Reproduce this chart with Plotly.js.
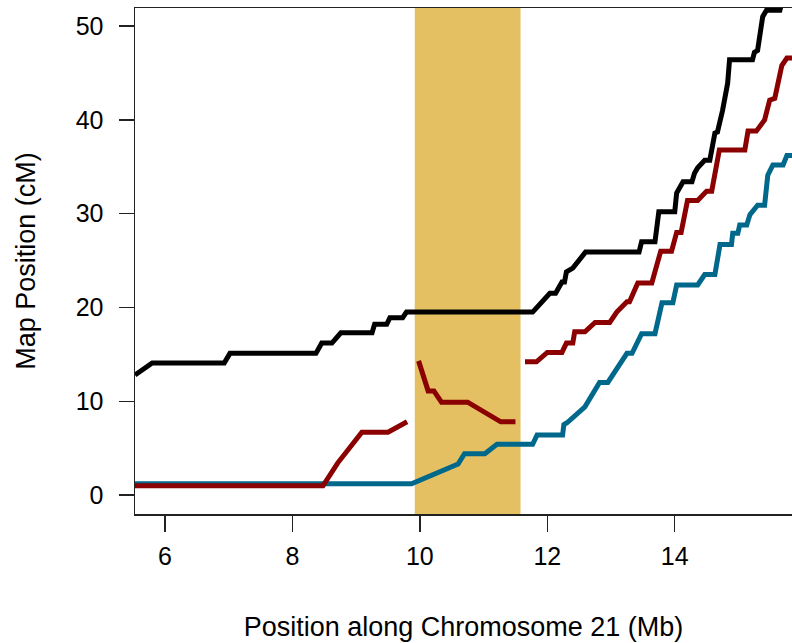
<!DOCTYPE html>
<html>
<head>
<meta charset="utf-8">
<script src="https://cdn.plot.ly/plotly-3.0.1.min.js"></script>
<style>
html, body { margin: 0; padding: 0; overflow: hidden; background: #fff; }
#chart { width: 792px; height: 643px; }
</style>
</head>
<body>
<div id="chart"></div>
<script>
// ---- Data ----
var blackX = [5.53, 5.80, 6.93, 7.02, 8.37, 8.46, 8.62, 8.76, 9.25, 9.29, 9.48, 9.53, 9.73, 9.79, 11.77, 12.04, 12.13, 12.23, 12.27, 12.30, 12.40, 12.50, 12.60, 13.44, 13.48, 13.69, 13.75, 14.00, 14.03, 14.13, 14.27, 14.31, 14.36, 14.47, 14.55, 14.63, 14.67, 14.75, 14.83, 14.86, 15.22, 15.25, 15.30, 15.38, 15.44, 15.65, 15.70];
var blackY = [12.8, 14.07, 14.07, 15.1, 15.1, 16.2, 16.2, 17.3, 17.3, 18.2, 18.2, 18.9, 18.9, 19.5, 19.5, 21.5, 21.5, 22.7, 22.7, 23.8, 24.2, 25.1, 25.9, 25.9, 27.0, 27.0, 30.2, 30.2, 32.2, 33.4, 33.4, 34.3, 34.9, 35.7, 35.7, 38.6, 38.7, 41.0, 43.9, 46.4, 46.4, 47.2, 47.4, 51.0, 51.7, 51.7, 53.0];

var red1X = [5.53, 8.48, 8.71, 9.09, 9.50, 9.80];
var red1Y = [0.97, 0.97, 3.4, 6.7, 6.7, 7.8];
var red2X = [9.98, 10.13, 10.22, 10.34, 10.75, 11.27, 11.50];
var red2Y = [14.3, 11.1, 11.1, 9.9, 9.9, 7.8, 7.8];
var red3X = [11.65, 11.83, 12.00, 12.23, 12.30, 12.40, 12.43, 12.59, 12.75, 12.98, 13.09, 13.25, 13.29, 13.42, 13.64, 13.78, 13.95, 14.03, 14.10, 14.20, 14.36, 14.50, 14.58, 14.67, 14.70, 15.10, 15.15, 15.28, 15.41, 15.49, 15.57, 15.68, 15.76, 15.90];
var red3Y = [14.2, 14.2, 15.2, 15.2, 16.2, 16.2, 17.4, 17.4, 18.4, 18.4, 19.5, 20.6, 20.6, 22.6, 22.6, 26.0, 26.0, 28.0, 28.0, 31.4, 31.4, 32.4, 32.4, 35.5, 36.8, 36.8, 38.8, 38.8, 40.0, 42.1, 42.3, 45.8, 46.6, 46.6];

var tealX = [5.53, 9.87, 10.60, 10.70, 11.02, 11.21, 11.77, 11.84, 12.24, 12.26, 12.31, 12.40, 12.59, 12.82, 12.95, 13.25, 13.33, 13.48, 13.69, 13.80, 13.97, 14.03, 14.36, 14.47, 14.63, 14.71, 14.89, 14.91, 14.99, 15.02, 15.13, 15.18, 15.30, 15.41, 15.46, 15.54, 15.70, 15.76, 15.90];
var tealY = [1.2, 1.2, 3.3, 4.4, 4.4, 5.4, 5.4, 6.4, 6.4, 7.5, 7.7, 8.2, 9.4, 12.0, 12.0, 15.1, 15.1, 17.2, 17.2, 20.5, 20.5, 22.4, 22.4, 23.5, 23.5, 26.7, 26.7, 27.9, 27.9, 28.8, 28.8, 29.9, 30.9, 30.9, 34.1, 35.2, 35.2, 36.2, 36.2];

var bandStart = 9.92;
var bandEnd = 11.58;

var xTicks = [6, 8, 10, 12, 14];
var yTicks = [0, 10, 20, 30, 40, 50];

// ---- Styles ----
var FONT = "Liberation Sans, Arial, Helvetica, sans-serif";
var LW = 5;

function line(x, y, color) {
  return { x: x, y: y, type: "scatter", mode: "lines",
           line: { color: color, width: LW }, hoverinfo: "skip", showlegend: false };
}

var traces = [
  line(tealX, tealY, "#00688B"),
  line(red1X, red1Y, "#8B0000"),
  line(red2X, red2Y, "#8B0000"),
  line(red3X, red3Y, "#8B0000"),
  line(blackX, blackY, "#000000")
];

var layout = {
  width: 792, height: 643,
  margin: { l: 135, r: 0, t: 8, b: 129 },
  paper_bgcolor: "#ffffff", plot_bgcolor: "#ffffff",
  font: { family: FONT, color: "#000" },
  showlegend: false,
  xaxis: {
    range: [5.53, 15.84], tickvals: xTicks, ticktext: xTicks.map(String),
    ticks: "outside", ticklen: 16, tickwidth: 1.3, tickcolor: "#222",
    showline: true, mirror: true, linecolor: "#222", linewidth: 1.5,
    showgrid: false, zeroline: false, ticklabelstandoff: 3,
    tickfont: { size: 25, family: FONT, color: "#000" },
    title: { text: "Position along Chromosome 21 (Mb)", font: { size: 27, family: FONT, color: "#000" }, standoff: 48 }
  },
  yaxis: {
    range: [-2.03, 51.93], tickvals: yTicks, ticktext: yTicks.map(String),
    ticks: "outside", ticklen: 15, tickwidth: 1.3, tickcolor: "#222",
    showline: true, mirror: false, linecolor: "#222", linewidth: 1.5,
    showgrid: false, zeroline: false, ticklabelstandoff: 10,
    tickfont: { size: 25, family: FONT, color: "#000" },
    title: { text: "Map Position (cM)", font: { size: 27, family: FONT, color: "#000" }, standoff: 32 }
  },
  shapes: [{
    type: "rect", xref: "x", yref: "paper", x0: bandStart, x1: bandEnd, y0: 0, y1: 1,
    fillcolor: "rgba(218,165,32,0.7)", line: { width: 0 }, layer: "below"
  }]
};

Plotly.newPlot("chart", traces, layout, { displayModeBar: false, staticPlot: true });
</script>
</body>
</html>
